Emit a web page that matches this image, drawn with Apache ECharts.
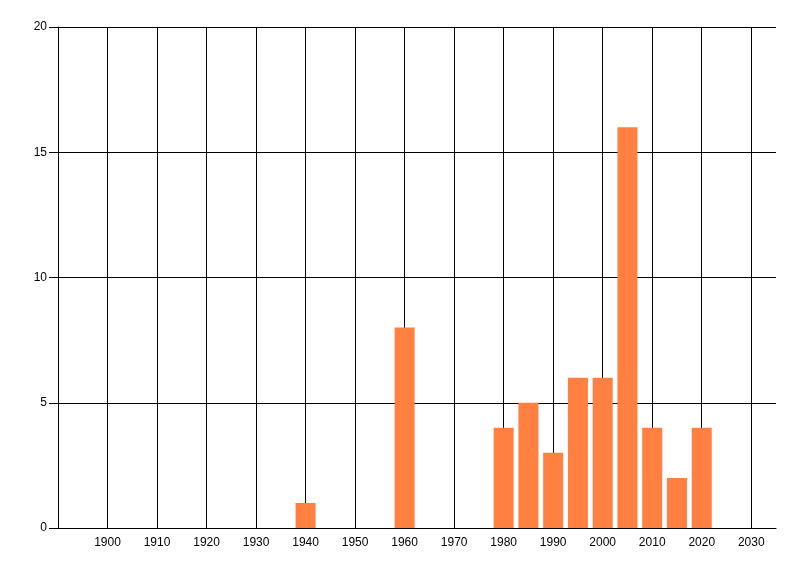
<!DOCTYPE html>
<html>
<head>
<meta charset="utf-8">
<script src="https://cdn.jsdelivr.net/npm/echarts@6/dist/echarts.min.js"></script>
<style>html,body{margin:0;padding:0;background:#fff}#c{width:800px;height:576px}</style>
</head>
<body>
<div id="c"></div>
<script>
const years = [1940, 1960, 1980, 1985, 1990, 1995, 2000, 2005, 2010, 2015, 2020];
const counts = [1, 8, 4, 5, 3, 6, 6, 16, 4, 2, 4];
const xMin = 1890, xMax = 2035, xStep = 10;
const yMin = 0, yMax = 20, yStep = 5;

const chart = echarts.init(document.getElementById('c'), null, {renderer: 'canvas'});
const font = '"Liberation Sans", Arial, sans-serif';
chart.setOption({
  animation: false,
  backgroundColor: '#ffffff',
  grid: {left: 58, right: 24, top: 27, bottom: 48, containLabel: false},
  xAxis: {
    type: 'value', min: xMin, max: xMax, interval: xStep,
    axisLine: {show: true, lineStyle: {color: '#000', width: 1}},
    axisTick: {show: false},
    axisLabel: {
      color: '#000', fontFamily: font, fontSize: 12, margin: 9,
      showMinLabel: false, showMaxLabel: false,
      formatter: v => (v % 10 === 0 && v > xMin && v < xMax) ? String(v) : ''
    },
    splitLine: {show: true, showMinLine: false, showMaxLine: false, lineStyle: {color: '#000', width: 1}}
  },
  yAxis: {
    type: 'value', min: yMin, max: yMax, interval: yStep,
    axisLine: {show: true, lineStyle: {color: '#000', width: 1}},
    axisTick: {show: true, length: 9, lineStyle: {color: '#000'}},
    axisLabel: {color: '#000', fontFamily: font, fontSize: 12, margin: 11},
    splitLine: {show: true, lineStyle: {color: '#000', width: 1}}
  },
  series: [{
    type: 'bar',
    data: years.map((y, i) => [y, counts[i]]),
    barWidth: 20,
    itemStyle: {color: '#FF8040'},
    z: 5
  }]
});
</script>
</body>
</html>
